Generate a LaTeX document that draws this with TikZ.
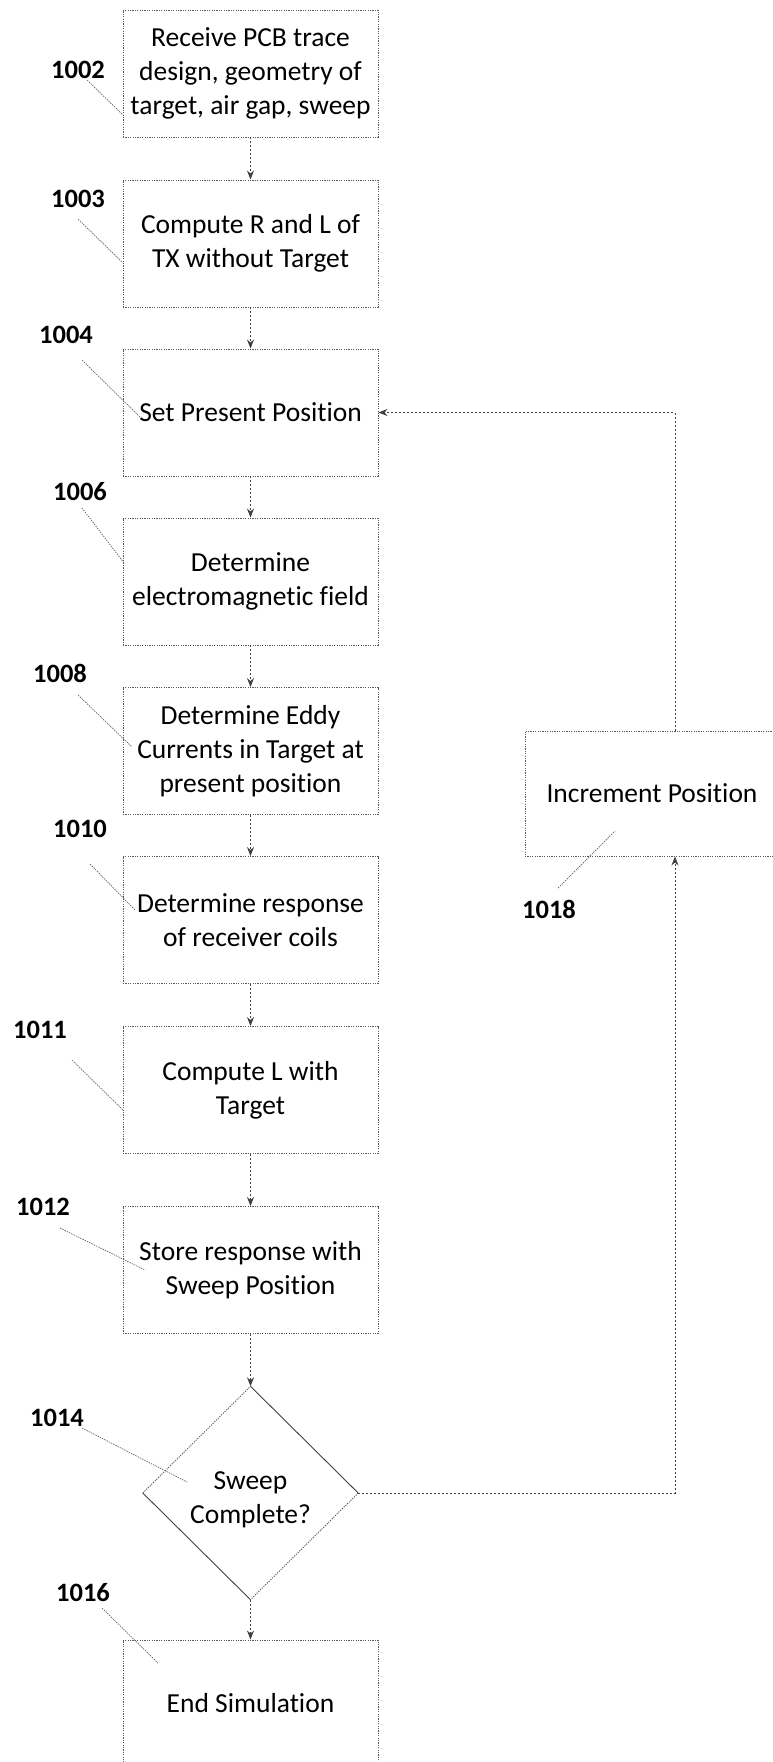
\documentclass[tikz,border=0pt]{standalone}
\usepackage{fontspec}
\setmainfont[RawFeature={-liga}]{Carlito}
\usetikzlibrary{arrows.meta,shapes.geometric}
\begin{document}
\begin{tikzpicture}[x=1pt,y=-1pt,
  box/.style={draw=black!65, line width=0.9pt, dash pattern=on 1.2pt off 1.2pt, minimum width=255pt, minimum height=127pt, inner sep=0pt, align=center, font=\fontsize{27.5}{34}\selectfont},
  flow/.style={draw=black!75, line width=0.9pt, dash pattern=on 2pt off 2pt, -{Stealth[length=9pt,width=7pt]}},
  lab/.style={font=\fontsize{26.5}{30}\selectfont\bfseries, inner sep=0pt},
  lead/.style={draw=black!60, line width=0.7pt, dash pattern=on 1.5pt off 1pt},
  dedge/.style={draw=black!75, line width=0.9pt},
  dedgedot/.style={draw=black!65, line width=0.9pt, dash pattern=on 1.2pt off 1.2pt}]
\useasboundingbox (0,0) rectangle (773,1762);

% boxes
\node[box] (b02) at (250.5,73.5) {Receive PCB trace\\design, geometry of\\target, air gap, sweep};
\node[box] (b03) at (250.5,243.5) {Compute R and L of\\TX without Target};
\node[box] (b04) at (250.5,412.5) {Set Present Position};
\node[box] (b06) at (250.5,581.5) {Determine\\electromagnetic field};
\node[box] (b08) at (250.5,751) {Determine Eddy\\Currents in Target at\\present position};
\node[box] (b10) at (250.5,920) {Determine response\\of receiver coils};
\node[box] (b11) at (250.5,1090) {Compute L with\\Target};
\node[box] (b12) at (250.5,1270) {Store response with\\Sweep Position};
\node[diamond, minimum width=215pt, minimum height=213pt, inner sep=0pt] (d14) at (250.5,1493) {};
\node[font=\fontsize{27.5}{33.5}\selectfont, align=center, inner sep=0pt] (t14) at (250.5,1500) {Sweep\\Complete?};
\node[box] (b16) at (250.5,1703.5) {End Simulation};
\node[box, minimum width=254pt, minimum height=125pt] (b18) at (652,793.5) {Increment Position};

% diamond edges
\draw[dedgedot] (d14.west) -- (d14.north);
\draw[dedge] (d14.north) -- (d14.east);
\draw[dedgedot] (d14.east) -- (d14.south);
\draw[dedge] (d14.south) -- (d14.west);

% flow arrows
\draw[flow] (b02) -- (b03);
\draw[flow] (b03) -- (b04);
\draw[flow] (b04) -- (b06);
\draw[flow] (b06) -- (b08);
\draw[flow] (b08) -- (b10);
\draw[flow] (b10) -- (b11);
\draw[flow] (b11) -- (b12);
\draw[flow] (b12) -- (d14.north);
\draw[flow] (d14.south) -- (b16);
\coordinate (loopx) at (675,0);
\draw[flow] (d14.east) -| (b18.south -| loopx);
\draw[flow] (b18.north -| loopx) |- (b04.east);

% labels
\node[lab] (n02) at (78,70) {1002};
\node[lab] (n03) at (78,199) {1003};
\node[lab] (n04) at (66,335) {1004};
\node[lab] (n06) at (80,492) {1006};
\node[lab] (n08) at (60,673) {1008};
\node[lab] (n10) at (80,829) {1010};
\node[lab] (n11) at (40,1030) {1011};
\node[lab] (n12) at (43,1207) {1012};
\node[lab] (n14) at (57,1418) {1014};
\node[lab] (n16) at (83,1593) {1016};
\node[lab] (n18) at (549,909) {1018};

% leader end points
\coordinate (e02) at (123,115);
\coordinate (e03) at (123,263);
\coordinate (e04) at (140,417);
\coordinate (e06) at (124,563);
\coordinate (e08) at (132,747);
\coordinate (e10) at (135,910);
\coordinate (e11) at (123,1110);
\coordinate (e12) at (145,1270);
\coordinate (e14) at (187,1482);
\coordinate (e16) at (158,1663);
\coordinate (e18) at (615,831);

\draw[lead] ([shift={(9,10)}]n02.center) -- (e02);
\draw[lead] ([shift={(0,20)}]n03.center) -- (e03);
\draw[lead] ([shift={(16,25)}]n04.center) -- (e04);
\draw[lead] ([shift={(2,16)}]n06.center) -- (e06);
\draw[lead] ([shift={(18,22)}]n08.center) -- (e08);
\draw[lead] ([shift={(10,35)}]n10.center) -- (e10);
\draw[lead] ([shift={(32,30)}]n11.center) -- (e11);
\draw[lead] ([shift={(17,21)}]n12.center) -- (e12);
\draw[lead] ([shift={(25,10)}]n14.center) -- (e14);
\draw[lead] ([shift={(19,15)}]n16.center) -- (e16);
\draw[lead] ([shift={(9,-21)}]n18.center) -- (e18);
\end{tikzpicture}
\end{document}
